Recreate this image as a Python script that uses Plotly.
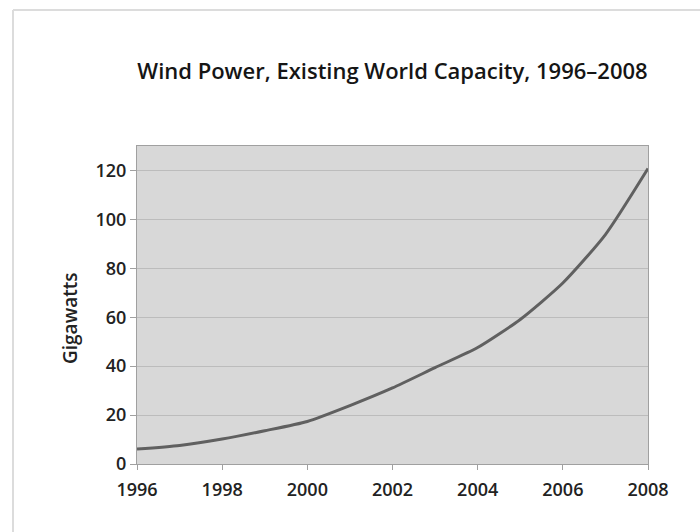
import plotly.graph_objects as go

years = [1996, 1997, 1998, 1999, 2000, 2001, 2002, 2003, 2004, 2005, 2006, 2007, 2008]
gigawatts = [6.1, 7.6, 10.2, 13.6, 17.4, 23.9, 31.1, 39.4, 47.6, 59.1, 74.0, 93.8, 120.8]
x_ticks = [1996, 1998, 2000, 2002, 2004, 2006, 2008]
y_ticks = [0, 20, 40, 60, 80, 100, 120]
title_text = "Wind Power, Existing World Capacity, 1996–2008"
y_title = "Gigawatts"

FONT = "Open Sans"
W, H = 700, 532
L, R, T, B = 137, 52, 146, 68
PW, PH = W - L - R, H - T - B


def px(x):
    return (x - L) / PW


def py(y):
    return (H - B - y) / PH


fig = go.Figure()
fig.add_trace(go.Scatter(
    x=years, y=gigawatts, mode="lines",
    line=dict(color="#606060", width=3, shape="spline", smoothing=0.6),
    hoverinfo="x+y", showlegend=False,
))

fig.update_layout(
    width=W, height=H,
    margin=dict(l=L, r=R, t=T, b=B),
    paper_bgcolor="white",
    plot_bgcolor="#d8d8d8",
    font=dict(family=FONT, color="#222222"),
    title=dict(text=title_text, x=(L + PW / 2) / W, xanchor="center", y=1 - 71 / H, yanchor="middle",
               font=dict(family=FONT, size=22, color="#151515", weight=600)),
    xaxis=dict(
        range=[1996, 2008], tickvals=x_ticks, ticktext=[str(v) for v in x_ticks],
        showgrid=False, zeroline=False,
        showline=True, linecolor="#a0a0a0", linewidth=1, mirror=True,
        ticks="outside", ticklen=5, tickcolor="#a0a0a0", ticklabelstandoff=4,
        tickfont=dict(size=18, color="#222222", weight=600),
    ),
    yaxis=dict(
        range=[0, 130], tickvals=y_ticks, ticktext=[str(v) for v in y_ticks],
        showgrid=True, gridcolor="#bcbcbc", gridwidth=1, zeroline=False,
        showline=True, linecolor="#a0a0a0", linewidth=1, mirror=True,
        ticks="outside", ticklen=6, tickcolor="#a0a0a0",
        tickfont=dict(size=18, color="#222222", weight=600),
    ),
    annotations=[
        dict(text=y_title, xref="paper", yref="paper", x=px(70), y=py(319),
             xanchor="center", yanchor="middle", textangle=-90, showarrow=False,
             font=dict(family=FONT, size=19, color="#222222", weight=600)),
    ],
    shapes=[
        dict(type="line", xref="paper", yref="paper", x0=px(13), x1=px(W + 5),
             y0=py(10), y1=py(10), line=dict(color="#dcdcdc", width=2)),
        dict(type="line", xref="paper", yref="paper", x0=px(13), x1=px(13),
             y0=py(10), y1=py(H + 5), line=dict(color="#dcdcdc", width=2)),
    ],
)

fig.write_html("out.html", config={"displayModeBar": False},
               post_script="document.body.style.margin='0';document.body.style.overflow='hidden';")
